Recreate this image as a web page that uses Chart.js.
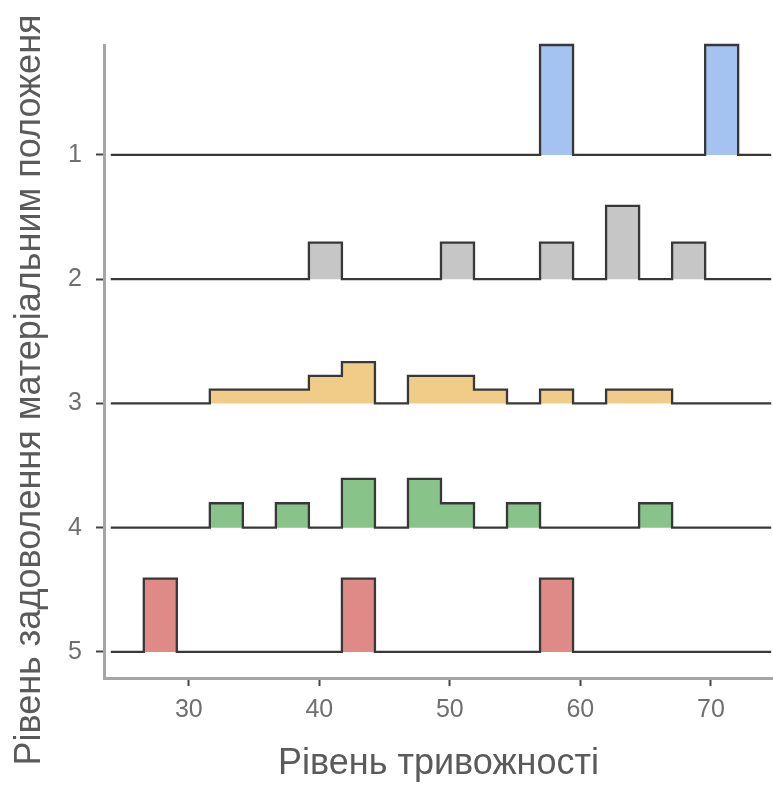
<!DOCTYPE html>
<html>
<head>
<meta charset="utf-8">
<script src="https://cdn.jsdelivr.net/npm/chart.js@4.4.1/dist/chart.umd.min.js"></script>
<style>
  html, body { margin: 0; padding: 0; background: #fff; }
</style>
</head>
<body>
<canvas id="chart" width="773" height="785"></canvas>
<script>
// Ridgeline histogram: anxiety level by satisfaction with material position

const binStart = 24.02;
const binWidth = 2.53;
const groupLabels = ['1', '2', '3', '4', '5'];
const xTicks = [30, 40, 50, 60, 70];
const xTitle = 'Рівень тривожності';
const yTitle = 'Рівень задоволення матеріальним положеня';

// counts per bin (20 bins), one array per group
const counts1 = [0, 0, 0, 0, 0, 0, 0, 0, 0, 0, 0, 0, 0, 1, 0, 0, 0, 0, 1, 0];
const counts2 = [0, 0, 0, 0, 0, 0, 1, 0, 0, 0, 1, 0, 0, 1, 0, 2, 0, 1, 0, 0];
const counts3 = [0, 0, 0, 1, 1, 1, 2, 3, 0, 2, 2, 1, 0, 1, 0, 1, 1, 0, 0, 0];
const counts4 = [0, 0, 0, 1, 0, 1, 0, 2, 0, 2, 1, 0, 1, 0, 0, 0, 1, 0, 0, 0];
const counts5 = [0, 1, 0, 0, 0, 0, 0, 1, 0, 0, 0, 0, 0, 1, 0, 0, 0, 0, 0, 0];

const fillColors = ['#a4c3f0', '#c6c6c6', '#f0cc88', '#88c48a', '#e08a88'];

const FONT = '"Liberation Sans", Arial, sans-serif';
const RIDGE_HEIGHT = 0.885; // tallest bar, in row units

const allCounts = [counts1, counts2, counts3, counts4, counts5];

// density = count / (n * binwidth), like a normalised histogram
const densities = allCounts.map(c => {
  const n = c.reduce((a, b) => a + b, 0);
  return c.map(v => v / (n * binWidth));
});
const maxDensity = Math.max(...densities.flat());

function ridgePoints(dens, base) {
  const pts = [{ x: binStart, y: base }];
  dens.forEach((d, i) => {
    pts.push({ x: binStart + i * binWidth, y: base + d / maxDensity * RIDGE_HEIGHT });
  });
  pts.push({ x: binStart + dens.length * binWidth, y: base });
  return pts;
}

// group 1 on top, group 5 at the bottom
const datasets = densities.map((dens, i) => {
  const base = groupLabels.length - i;
  return {
    label: groupLabels[i],
    data: ridgePoints(dens, base),
    stepped: true,
    borderColor: '#383838',
    borderWidth: 2.3,
    backgroundColor: fillColors[i],
    fill: { value: base },
    pointRadius: 0,
    clip: false
  };
});

const yTitlePlugin = {
  id: 'yTitle',
  afterDraw(chart) {
    const ctx = chart.ctx;
    ctx.save();
    ctx.translate(30, 390);
    ctx.rotate(-Math.PI / 2);
    ctx.font = '36px ' + FONT;
    ctx.fillStyle = '#5a5a5a';
    ctx.textAlign = 'center';
    ctx.textBaseline = 'middle';
    ctx.fillText(yTitle, 0, 0, 775);
    ctx.restore();
  }
};

new Chart(document.getElementById('chart'), {
  type: 'line',
  data: { datasets },
  plugins: [yTitlePlugin],
  options: {
    responsive: false,
    animation: false,
    devicePixelRatio: 1,
    layout: { padding: { top: 45, left: 0, right: 0, bottom: 0 } },
    plugins: { legend: { display: false }, tooltip: { enabled: false } },
    scales: {
      x: {
        type: 'linear',
        min: 23.5,
        max: 74.76,
        afterFit(scale) { scale.height = 107; },
        afterBuildTicks(scale) { scale.ticks = xTicks.map(v => ({ value: v })); },
        border: { display: true, color: '#a5a5a5', width: 3 },
        grid: { drawOnChartArea: false, drawTicks: true, tickLength: 8, tickColor: '#444', tickWidth: 2 },
        ticks: { color: '#6f6f6f', padding: 9, font: { family: FONT, size: 25 } },
        title: {
          display: true,
          text: xTitle,
          color: '#5a5a5a',
          padding: { top: 0, bottom: 3 },
          font: { family: FONT, size: 36, lineHeight: 1 }
        }
      },
      y: {
        type: 'linear',
        min: 0.79,
        max: 5.885,
        afterFit(scale) { scale.width = 104; },
        afterBuildTicks(scale) {
          scale.ticks = groupLabels.map((l, i) => ({ value: groupLabels.length - i }));
        },
        border: { display: true, color: '#a5a5a5', width: 3 },
        grid: { drawOnChartArea: false, drawTicks: true, tickLength: 8, tickColor: '#444', tickWidth: 2 },
        ticks: {
          color: '#6f6f6f',
          padding: 14,
          font: { family: FONT, size: 25 },
          callback: v => groupLabels[groupLabels.length - v]
        }
      }
    }
  }
});
</script>
</body>
</html>
